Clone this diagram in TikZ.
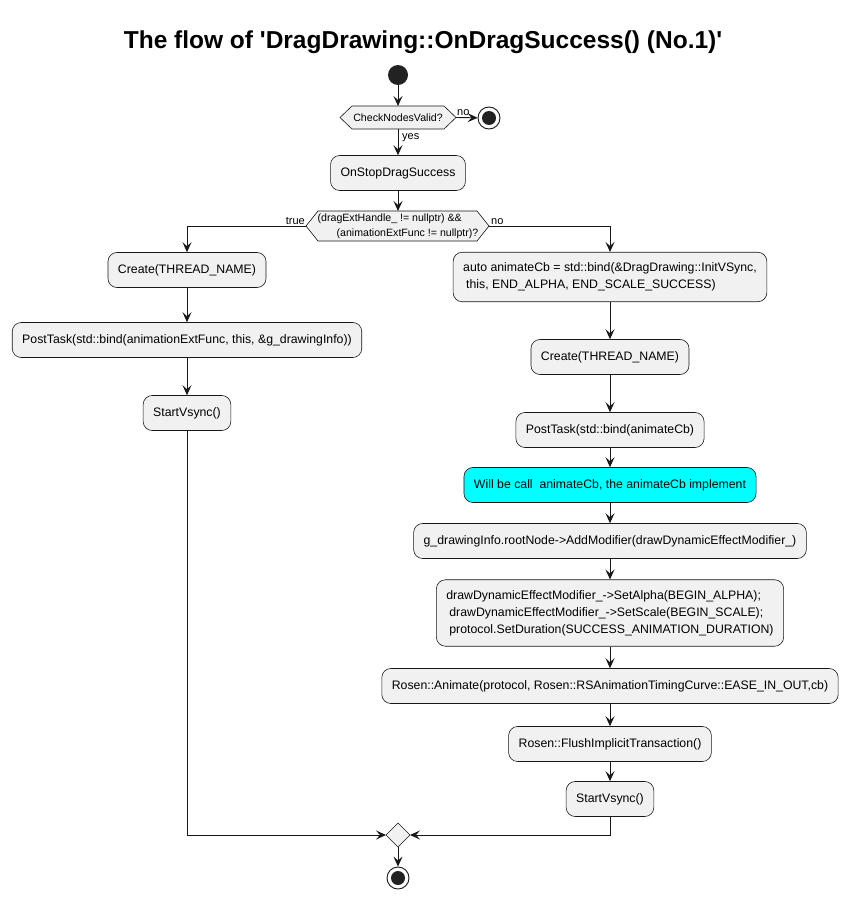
\documentclass[tikz,border=0pt]{standalone}
\usepackage{fontspec}
\setmainfont{Liberation Sans}[Ligatures=TeXOff]
\usetikzlibrary{arrows.meta}
\definecolor{lineC}{HTML}{181818}
\definecolor{boxC}{HTML}{F1F1F1}
\definecolor{startC}{HTML}{222222}
\definecolor{cyanC}{HTML}{00FFFF}
\begin{document}
\begin{tikzpicture}[x=1pt,y=-1pt,
  box/.style={draw=lineC, fill=boxC, rounded corners=9pt, line width=0.6pt, minimum height=35pt, inner xsep=10pt, inner ysep=10.5pt, font=\fontsize{12.3}{17}\selectfont, align=left},
  arr/.style={draw=lineC, line width=0.9pt, -{Stealth[length=10pt,width=9pt,inset=4pt]}},
  lbl/.style={font=\fontsize{11}{13}\selectfont, inner sep=0pt},
  dtext/.style={font=\fontsize{10.6}{15}\selectfont, inner sep=0pt, align=left},
  hexfill/.style={draw=lineC, fill=boxC, line width=0.6pt},
  stopc/.style={circle, draw=lineC, fill=white, line width=0.9pt, minimum size=22pt, inner sep=0pt},
  startc/.style={circle, fill=startC, minimum size=20pt, inner sep=0pt}]

\path[use as bounding box, fill=white] (0,0) rectangle (847,899);

\node[font=\fontsize{24.5}{28}\selectfont\bfseries] (title) at (423,42) {The flow of 'DragDrawing::OnDragSuccess() (No.1)'};

\node[startc] (start) at (398,75) {};

% decision 1
\coordinate (d1w) at (340,117.5);
\coordinate (d1e) at (456,117.5);
\coordinate (d1n) at (398,106);
\coordinate (d1s) at (398,129);
\draw[hexfill] (d1w) -- (352,106) -- (444,106) -- (d1e) -- (444,129) -- (352,129) -- cycle;
\node[dtext] (d1) at (398,117.5) {CheckNodesValid?};

\node[stopc] (stop1) at (489,118) {};
\fill[startC] (stop1.center) circle (7pt);

\node[box] (s1) at (398,173) {OnStopDragSuccess};

% decision 2
\coordinate (d2w) at (306,226);
\coordinate (d2e) at (489,226);
\coordinate (d2n) at (398,211);
\draw[hexfill] (d2w) -- (318,211) -- (477,211) -- (d2e) -- (477,241) -- (318,241) -- cycle;
\node[dtext] (d2) at (398,226) {(dragExtHandle\_ != nullptr) \&\&\\\hspace*{19pt}(animationExtFunc != nullptr)?};

% left branch
\node[box] (l1) at (187,270) {Create(THREAD\_NAME)};
\node[box] (l2) at (187,340) {PostTask(std::bind(animationExtFunc, this, \&g\_drawingInfo))};
\node[box] (l3) at (187,413) {StartVsync()};

% right branch
\node[box] (r1) at (610,277) {auto animateCb = std::bind(\&DragDrawing::InitVSync,\\\hspace*{3pt}this, END\_ALPHA, END\_SCALE\_SUCCESS)};
\node[box] (r2) at (610,357) {Create(THREAD\_NAME)};
\node[box] (r3) at (610,430) {PostTask(std::bind(animateCb)};
\node[box, fill=cyanC] (r4) at (610,485) {Will be call\ \ animateCb, the animateCb implement};
\node[box] (r5) at (610,541) {g\_drawingInfo.rootNode->AddModifier(drawDynamicEffectModifier\_)};
\node[box] (r6) at (610,613) {drawDynamicEffectModifier\_->SetAlpha(BEGIN\_ALPHA);\\\hspace*{3pt}drawDynamicEffectModifier\_->SetScale(BEGIN\_SCALE);\\\hspace*{3pt}protocol.SetDuration(SUCCESS\_ANIMATION\_DURATION)};
\node[box] (r7) at (610,686) {Rosen::Animate(protocol, Rosen::RSAnimationTimingCurve::EASE\_IN\_OUT,cb)};
\node[box] (r8) at (610,744) {Rosen::FlushImplicitTransaction()};
\node[box] (r9) at (610,799) {StartVsync()};

% merge
\coordinate (mw) at (386,835);
\coordinate (me) at (410,835);
\coordinate (mn) at (398,823);
\coordinate (ms) at (398,847);
\draw[hexfill] (mw) -- (mn) -- (me) -- (ms) -- cycle;

\node[stopc] (stop2) at (398,878) {};
\fill[startC] (stop2.center) circle (7pt);

% connectors
\draw[arr] (start) -- (d1n);
\draw[arr] (d1e) -- (stop1);
\node[lbl, anchor=south west] (lno1) at (457,116) {no};
\draw[arr] (d1s) -- (s1);
\node[lbl, anchor=west] (lyes) at (402,138) {yes};
\draw[arr] (s1) -- (d2n);
\draw[arr] (d2w) -| (l1.north);
\node[lbl, anchor=south east] (ltrue) at (305,224.5) {true};
\draw[arr] (d2e) -| (r1.north);
\node[lbl, anchor=south west] (lno2) at (491,224.5) {no};
\draw[arr] (l1) -- (l2);
\draw[arr] (l2) -- (l3);
\draw[arr] (l3.south) |- (mw);
\draw[arr] (r1) -- (r2);
\draw[arr] (r2) -- (r3);
\draw[arr] (r3) -- (r4);
\draw[arr] (r4) -- (r5);
\draw[arr] (r5) -- (r6);
\draw[arr] (r6) -- (r7);
\draw[arr] (r7) -- (r8);
\draw[arr] (r8) -- (r9);
\draw[arr] (r9.south) |- (me);
\draw[arr] (ms) -- (stop2);
\end{tikzpicture}
\end{document}
